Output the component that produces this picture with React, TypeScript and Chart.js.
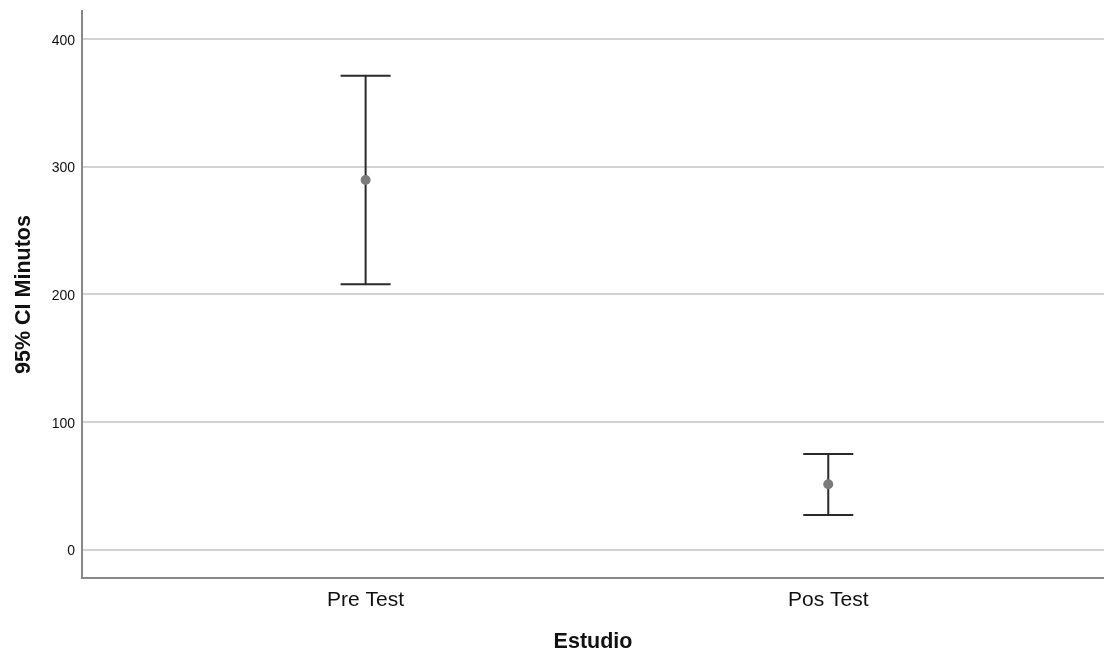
import React, { useEffect, useRef } from "react";
import { Chart, registerables } from "chart.js";

Chart.register(...registerables);

const categories = ["Pre Test", "Pos Test"];
const means = [289.5, 51.1];
const lowerCI = [207.8, 27.0];
const upperCI = [371.2, 74.8];
const yTickValues = [0, 100, 200, 300, 400];

const FONT = "'Liberation Sans', Arial, Helvetica, sans-serif";

const errorBarPlugin = {
  id: "errorBars",
  beforeDatasetsDraw(chart: any) {
    const { ctx, scales } = chart;
    const xs = scales.x;
    const ys = scales.y;
    ctx.save();
    ctx.strokeStyle = "#2a2a2a";
    ctx.lineWidth = 2;
    const cap = 25;
    categories.forEach((_, i) => {
      const px = xs.getPixelForValue(i);
      const top = ys.getPixelForValue(upperCI[i]);
      const bot = ys.getPixelForValue(lowerCI[i]);
      ctx.beginPath();
      ctx.moveTo(px, top);
      ctx.lineTo(px, bot);
      ctx.moveTo(px - cap, top);
      ctx.lineTo(px + cap, top);
      ctx.moveTo(px - cap, bot);
      ctx.lineTo(px + cap, bot);
      ctx.stroke();
    });
    ctx.restore();
  },
};

const zeroPad = (s: any) => {
  s.paddingTop = 0;
  s.paddingBottom = 0;
  s.paddingLeft = 0;
  s.paddingRight = 0;
};

export default function App() {
  const ref = useRef<HTMLCanvasElement | null>(null);

  useEffect(() => {
    if (!ref.current) return;
    const chart = new Chart(ref.current, {
      type: "scatter",
      data: {
        datasets: [
          {
            label: "Media",
            data: means.map((m, i) => ({ x: i, y: m })),
            pointRadius: 5,
            pointHoverRadius: 5,
            pointBackgroundColor: "#7b7b7b",
            pointBorderColor: "#7b7b7b",
            pointBorderWidth: 0,
          },
        ],
      },
      plugins: [errorBarPlugin],
      options: {
        responsive: false,
        animation: false,
        layout: { autoPadding: false, padding: { top: 11, right: 0, bottom: 0, left: 0 } },
        plugins: {
          legend: { display: false },
          tooltip: { enabled: false },
        },
        scales: {
          x: {
            type: "linear",
            min: -0.613,
            max: 1.596,
            afterBuildTicks: (s: any) => {
              s.ticks = categories.map((_, i) => ({ value: i }));
            },
            afterFit: (s: any) => {
              s.height = 75;
              zeroPad(s);
            },
            ticks: {
              callback: (v: any) => categories[v as number] ?? "",
              color: "#111",
              font: { family: FONT, size: 21 },
              padding: 10,
              maxRotation: 0,
              autoSkip: false,
            },
            grid: { display: false, drawTicks: false },
            border: { display: true, color: "#888888", width: 2 },
            title: {
              display: true,
              text: "Estudio",
              color: "#111",
              font: { family: FONT, size: 21.5, weight: "bold" },
              padding: { top: 0, bottom: -2 },
            },
          },
          y: {
            type: "linear",
            min: -22.3,
            max: 421.9,
            afterBuildTicks: (s: any) => {
              s.ticks = yTickValues.map((v) => ({ value: v }));
            },
            afterFit: (s: any) => {
              s.width = 82;
              zeroPad(s);
            },
            ticks: {
              color: "#111",
              font: { family: FONT, size: 14 },
              padding: 7,
              labelOffset: 2,
            },
            grid: {
              color: "#d2d2d2",
              lineWidth: 2,
              drawTicks: false,
            },
            border: { display: true, color: "#888888", width: 2 },
            title: {
              display: true,
              text: "95% CI Minutos",
              color: "#111",
              font: { family: FONT, size: 21.5, weight: "bold" },
              padding: { top: 11, bottom: 0 },
            },
          },
        },
      },
    });
    return () => chart.destroy();
  }, []);

  return (
    <div style={{ position: "absolute", left: 0, top: 0, width: 1104, height: 653, background: "#fff" }}>
      <canvas ref={ref} width={1104} height={653} style={{ display: "block" }} />
    </div>
  );
}
